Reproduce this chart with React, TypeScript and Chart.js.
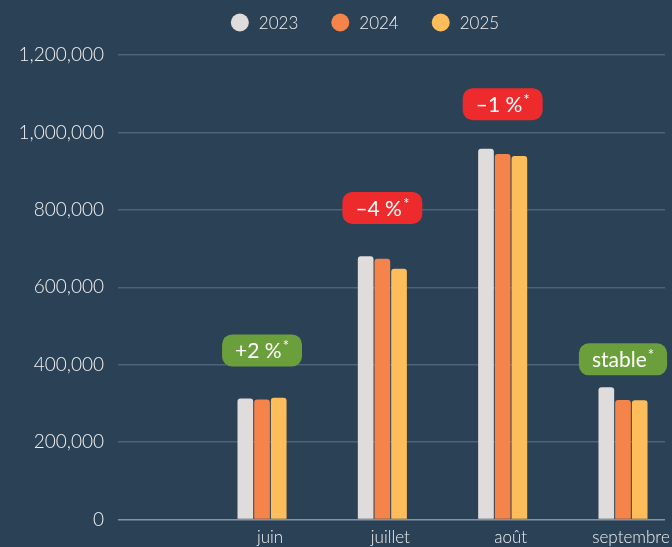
import React, { useEffect, useRef } from 'react';
import { Chart, registerables } from 'chart.js';

Chart.register(...registerables);

const months = ['juin', 'juillet', 'août', 'septembre'];
const years = ['2023', '2024', '2025'];
const values2023 = [313000, 680000, 958000, 342000];
const values2024 = [310000, 674000, 944000, 309000];
const values2025 = [315000, 648000, 939000, 308000];
const badgeTexts = ['+2 %', '–4 %', '–1 %', 'stable'];
const badgeTrend = ['up', 'down', 'down', 'flat'];
const badgeAnchors = [437000, 805000, 1073000, 414000];
const yMax = 1200000;
const yStep = 200000;

const BG = '#2b4156';
const GRID = '#4d6379';
const ZERO = '#8493a3';
const TEXT = '#f1f1f1';
const yearColors = ['#e0dcdc', '#f5844b', '#fdbd5a'];
const trendColors: Record<string, string> = { up: '#6a9f3c', flat: '#6a9f3c', down: '#ee2b2c' };
const FONT = 'Lato';

const seriesValues = [values2023, values2024, values2025];

const badgePlugin = {
  id: 'badges',
  afterDatasetsDraw(chart: any) {
    const { ctx, scales } = chart;
    const x = scales.x;
    const y = scales.y;
    ctx.save();
    badgeTexts.forEach((t, i) => {
      const cx = x.getPixelForValue(i + 1);
      const cy = y.getPixelForValue(badgeAnchors[i]);
      ctx.font = `400 21px ${FONT}`;
      const tw = ctx.measureText(t).width;
      ctx.font = `400 15px ${FONT}`;
      const sw = ctx.measureText('*').width;
      const w = tw + sw + 1 + 26;
      const h = 32;
      const left = cx - w / 2;
      const top = cy - h / 2;
      ctx.fillStyle = trendColors[badgeTrend[i]];
      ctx.beginPath();
      (ctx as any).roundRect(left, top, w, h, 10);
      ctx.fill();
      ctx.fillStyle = '#ffffff';
      ctx.textAlign = 'left';
      ctx.textBaseline = 'middle';
      ctx.font = `400 21px ${FONT}`;
      ctx.fillText(t, left + 13, cy + 1);
      ctx.font = `400 15px ${FONT}`;
      ctx.fillText('*', left + 13 + tw + 1, cy - 4);
    });
    ctx.restore();
  },
};

const legendPlugin = {
  id: 'customLegend',
  afterDraw(chart: any) {
    const { ctx } = chart;
    ctx.save();
    ctx.font = `300 17px ${FONT}`;
    const r = 9;
    const gap = 10;
    const itemGap = 33;
    const widths = years.map((yr) => 2 * r + gap + ctx.measureText(yr).width);
    const total = widths.reduce((a, b) => a + b, 0) + itemGap * (years.length - 1);
    let cur = chart.width / 2 + 29 - total / 2;
    const cy = 22.5;
    years.forEach((yr, i) => {
      ctx.fillStyle = yearColors[i];
      ctx.beginPath();
      ctx.arc(cur + r, cy, r, 0, Math.PI * 2);
      ctx.fill();
      ctx.fillStyle = TEXT;
      ctx.textAlign = 'left';
      ctx.textBaseline = 'middle';
      ctx.fillText(yr, cur + 2 * r + gap, cy + 1);
      cur += widths[i] + itemGap;
    });
    ctx.restore();
  },
};

export default function App() {
  const ref = useRef<HTMLCanvasElement | null>(null);

  useEffect(() => {
    document.body.style.margin = '0';
    document.body.style.background = BG;
    const canvas = ref.current;
    if (!canvas) return;
    const chart = new Chart(canvas, {
      type: 'bar',
      data: {
        datasets: years.map((yr, k) => ({
          label: yr,
          data: seriesValues[k].map((v, i) => ({ x: i + 1, y: v })),
          backgroundColor: yearColors[k],
          borderWidth: 0,
          borderRadius: { topLeft: 3, topRight: 3, bottomLeft: 0, bottomRight: 0 },
          borderSkipped: 'bottom',
          categoryPercentage: 0.416,
          barPercentage: 0.94,
        })),
      },
      options: {
        responsive: false,
        animation: false,
        layout: { padding: { top: 55, left: 8, right: 7, bottom: -9 } },
        plugins: {
          legend: { display: false },
          tooltip: { enabled: false },
        },
        scales: {
          x: {
            type: 'linear',
            offset: false,
            min: -0.197,
            max: 4.349,
            grid: { display: false, drawTicks: false },
            border: { display: false },
            afterBuildTicks: (scale: any) => {
              scale.ticks = months.map((_, i) => ({ value: i + 1 }));
            },
            ticks: {
              autoSkip: false,
              maxRotation: 0,
              padding: 8,
              labelOffset: 8,
              color: TEXT,
              font: { family: FONT, size: 17, weight: '300' },
              callback: (v: any) => months[Number(v) - 1] ?? '',
            },
          },
          y: {
            min: 0,
            max: yMax,
            afterFit: (scale: any) => {
              scale.width = 110;
            },
            grid: {
              drawTicks: false,
              color: (c: any) => (c.tick && c.tick.value === 0 ? ZERO : GRID),
              lineWidth: 1.5,
            },
            border: { display: false },
            ticks: {
              stepSize: yStep,
              padding: 14,
              color: TEXT,
              font: { family: FONT, size: 19, weight: '300' },
              callback: (v: any) => Number(v).toLocaleString('en-US'),
            },
          },
        },
      },
      plugins: [badgePlugin, legendPlugin],
    } as any);
    return () => chart.destroy();
  }, []);

  return (
    <div style={{ width: 672, height: 547, background: BG, overflow: 'hidden' }}>
      <canvas ref={ref} width={672} height={547} style={{ display: 'block' }} />
    </div>
  );
}
